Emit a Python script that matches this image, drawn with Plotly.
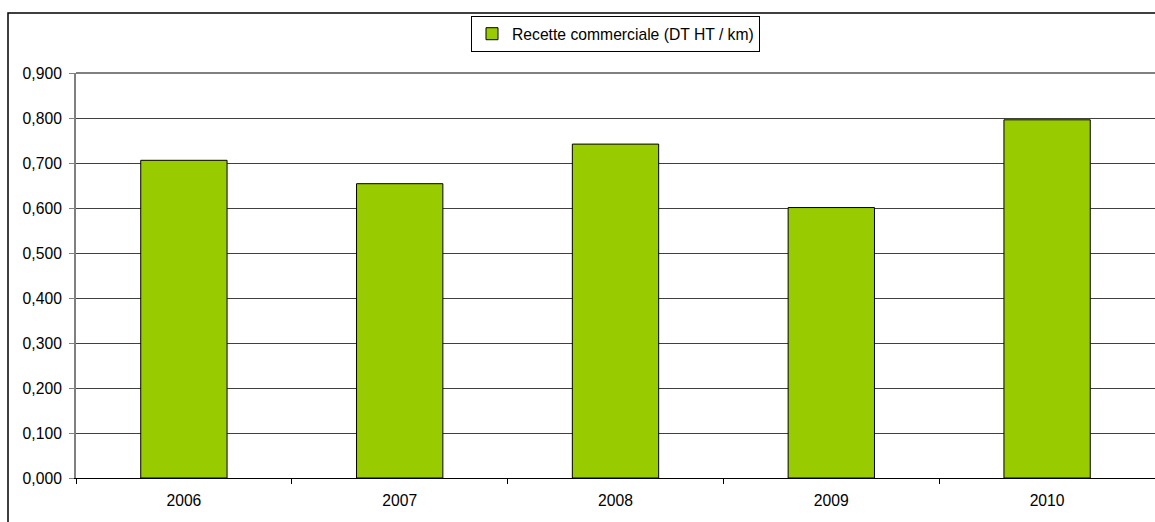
import plotly.graph_objects as go

# ---------------------------------------------------------------------------
# Data
# ---------------------------------------------------------------------------

years = ["2006", "2007", "2008", "2009", "2010"]
recette = [0.706, 0.654, 0.742, 0.601, 0.796]
series_name = "Recette commerciale (DT HT / km)"

_FONT = "Liberation Sans, Arial, sans-serif"
_GREEN = "#99CC00"

# plot area in pixels (from the reference)
_L, _T, _B = 76, 73, 44
_W, _H = 1155, 522
_plot_h = _H - _T - _B
_plot_w = _W - _L


def _px_x(px: float) -> float:
    return (px - _L) / _plot_w


def _px_y(py: float) -> float:
    return (_H - _B - py) / _plot_h


fig = go.Figure(
    go.Bar(
        x=years,
        y=recette,
        name=series_name,
        marker=dict(color=_GREEN, line=dict(color="#000000", width=1)),
        showlegend=True,
    )
)

fig.update_layout(
    width=_W,
    height=_H,
    margin=dict(l=_L, r=0, t=_T, b=_B),
    paper_bgcolor="#FFFFFF",
    plot_bgcolor="#FFFFFF",
    font=dict(family=_FONT, size=15.7, color="#000000"),
    separators=", ",
    bargap=0.6,
    showlegend=True,
    legend=dict(
        orientation="h",
        x=0.5,
        xanchor="center",
        y=_px_y(16),
        yanchor="top",
        bgcolor="#FFFFFF",
        bordercolor="#000000",
        borderwidth=1,
        font=dict(size=15.7),
        itemwidth=30,
    ),
    xaxis=dict(
        type="category",
        tickson="boundaries",
        ticks="outside",
        ticklen=5,
        tickcolor="#000000",
        ticklabelstandoff=8,
        showline=True,
        linecolor="#000000",
        linewidth=1,
        showgrid=False,
    ),
    yaxis=dict(
        range=[0, 0.9],
        dtick=0.1,
        tickformat=".3f",
        ticks="outside",
        ticklen=5,
        tickcolor="#808080",
        ticklabelstandoff=4,
        showline=True,
        linecolor="#808080",
        linewidth=2,
        showgrid=True,
        gridcolor="#404040",
        gridwidth=1,
        zeroline=False,
    ),
    shapes=[
        # top border of the plot area
        dict(type="line", xref="paper", yref="paper", x0=0, x1=1, y0=1, y1=1,
             line=dict(color="#808080", width=2)),
        # outer chart frame
        dict(type="rect", xref="paper", yref="paper",
             x0=_px_x(8), x1=_px_x(1170), y0=_px_y(13), y1=_px_y(540),
             line=dict(color="#000000", width=1.5)),
    ],
)

# drop the default page margin so the figure sits at the window origin
fig.write_html(
    "out.html",
    config={"displayModeBar": False},
    post_script="document.body.style.margin='0';",
)
